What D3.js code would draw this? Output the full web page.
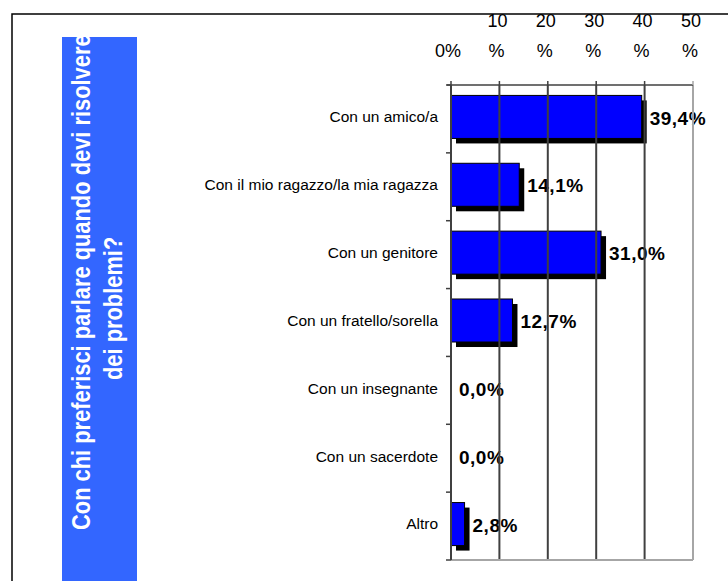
<!DOCTYPE html>
<html>
<head>
<meta charset="utf-8">
<script src="https://cdn.jsdelivr.net/npm/d3@7"></script>
<style>
  html, body { margin: 0; padding: 0; background: #fff; }
  svg { display: block; font-family: "Liberation Sans", Arial, sans-serif; }
</style>
</head>
<body>
<div class="chartDIV"></div>
<script>
// Survey answers: who do you prefer to talk to when you have problems
var categories = ["Con un amico/a", "Con il mio ragazzo/la mia ragazza", "Con un genitore",
                  "Con un fratello/sorella", "Con un insegnante", "Con un sacerdote", "Altro"];
var values = [39.4, 14.1, 31.0, 12.7, 0.0, 0.0, 2.8];
var tickValues = [0, 10, 20, 30, 40, 50];
var titleLines = ["Con chi preferisci parlare quando devi risolvere", "dei problemi?"];

var width = 728,
    height = 581,
    svg = d3.select(".chartDIV").
        append("svg").
        attr("width", width).
        attr("height", height);

var x = d3.scaleLinear().domain([0, 50]).range([451, 693]),
    y = d3.scaleBand().domain(categories).range([85, 560]).paddingInner(0.366).paddingOuter(0.183);

var fmt = d3.format(".1f");

// outer frame (only top and left visible)
svg.append("path").
    attr("d", "M12," + height + "V14H" + width).
    attr("fill", "none").
    attr("stroke", "#000").
    attr("stroke-width", 1.5);

// title box
svg.append("clipPath").attr("id", "titleClip").
    append("rect").attr("x", 62).attr("y", 37).attr("width", 75).attr("height", height);

svg.append("rect").
    attr("x", 62).attr("y", 37).
    attr("width", 75).attr("height", height).
    attr("fill", "#3366ff");

var titleG = svg.append("g").attr("clip-path", "url(#titleClip)");
var titlePos = [[90, 530], [122, 380]];
titleG.selectAll("text").
    data(titleLines).
    enter().
    append("text").
    attr("transform", function(d, i) { return "translate(" + titlePos[i][0] + "," + titlePos[i][1] + ") rotate(-90) scale(0.875,1)"; }).
    attr("fill", "#fff").
    style("font-size", "25px").
    style("font-weight", "bold").
    text(function(d) { return d; });

// category labels
svg.append("g").selectAll("text").
    data(categories).
    enter().
    append("text").
    attr("x", 438).
    attr("y", function(d) { return y(d) + y.bandwidth() / 2 - 2; }).
    attr("dy", "0.35em").
    attr("text-anchor", "end").
    style("font-size", "15.5px").
    attr("fill", "#000").
    text(function(d) { return d; });

// bars with drop shadow
var bar = svg.append("g").attr("transform", "translate(0,-2)").
    selectAll(".bar").
    data(values).
    enter().
    append("g").
    attr("class", "bar");

bar.filter(function(d) { return d > 0; }).append("rect").
    attr("x", x(0) + 5).
    attr("y", function(d) { return y(categories[values.indexOf(d)]) + 5; }).
    attr("width", function(d) { return x(d) - x(0); }).
    attr("height", y.bandwidth()).
    attr("fill", "#000");

bar.filter(function(d) { return d > 0; }).append("rect").
    attr("x", x(0)).
    attr("y", function(d) { return y(categories[values.indexOf(d)]); }).
    attr("width", function(d) { return x(d) - x(0); }).
    attr("height", y.bandwidth()).
    attr("fill", "#0000ff").
    attr("stroke", "#000").
    attr("stroke-width", 1);

// value labels
svg.append("g").selectAll("text").
    data(values).
    enter().
    append("text").
    attr("x", function(d) { return x(d) + 8; }).
    attr("y", function(d, i) { return y(categories[i]) + y.bandwidth() / 2 - 1; }).
    attr("dy", "0.35em").
    style("font-size", "19px").
    style("font-weight", "bold").
    style("letter-spacing", "0.5px").
    attr("fill", "#000").
    text(function(d) { return fmt(d).replace(".", ",") + "%"; });

// grid lines
svg.append("g").selectAll("line").
    data(tickValues.slice(1)).
    enter().
    append("line").
    attr("x1", function(d) { return x(d); }).
    attr("x2", function(d) { return x(d); }).
    attr("y1", 85).
    attr("y2", 560).
    attr("stroke", function(d) { return d === 50 ? "#a6a6a6" : "#404040"; }).
    attr("stroke-width", 2);

svg.append("line").
    attr("x1", x(0)).attr("x2", x(50)).
    attr("y1", 560).attr("y2", 560).
    attr("stroke", "#a6a6a6").
    attr("stroke-width", 2);

// top axis
var topAxis = svg.append("g").attr("transform", "translate(0,85)");
topAxis.append("line").
    attr("x1", 447).attr("x2", x(50)).
    attr("stroke", "#404040").attr("stroke-width", 1.5);
topAxis.selectAll(".tick").
    data(tickValues).
    enter().
    append("line").
    attr("x1", function(d) { return x(d); }).
    attr("x2", function(d) { return x(d); }).
    attr("y1", -4).attr("y2", 0).
    attr("stroke", function(d) { return d === 50 ? "#a6a6a6" : "#404040"; }).
    attr("stroke-width", 1.5);

var tickLabel = svg.append("g").selectAll("text").
    data(tickValues).
    enter().
    append("text").
    attr("text-anchor", "middle").
    style("font-size", "18px").
    attr("fill", "#000");
tickLabel.append("tspan").
    attr("x", function(d) { return x(d) - 2; }).
    attr("y", 27).
    text(function(d) { return d === 0 ? "" : String(d); });
tickLabel.append("tspan").
    attr("x", function(d) { return x(d) - 3; }).
    attr("y", 57).
    text(function(d) { return d === 0 ? "0%" : "%"; });

// left axis
var leftAxis = svg.append("g");
leftAxis.append("line").
    attr("x1", x(0)).attr("x2", x(0)).
    attr("y1", 85).attr("y2", 560).
    attr("stroke", "#404040").attr("stroke-width", 2);
leftAxis.selectAll(".tick").
    data(d3.range(categories.length + 1)).
    enter().
    append("line").
    attr("x1", 446).attr("x2", x(0)).
    attr("y1", function(d) { return 85 + d * y.step(); }).
    attr("y2", function(d) { return 85 + d * y.step(); }).
    attr("stroke", "#404040").attr("stroke-width", 1.5);
</script>
</body>
</html>
